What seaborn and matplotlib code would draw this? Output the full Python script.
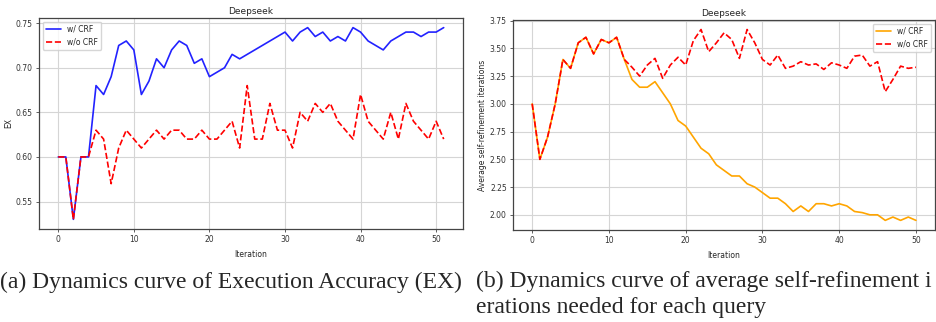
import numpy as np
import pandas as pd
import matplotlib
matplotlib.use("Agg")
import matplotlib.pyplot as plt
import seaborn as sns

# EX per iteration (left panel)
ex_iter = list(range(52))
ex_with_crf = [0.60, 0.60, 0.53, 0.60, 0.60, 0.68, 0.67, 0.69, 0.725, 0.73,
               0.72, 0.67, 0.685, 0.71, 0.70, 0.72, 0.73, 0.725, 0.705, 0.71,
               0.69, 0.695, 0.70, 0.715, 0.71, 0.715, 0.72, 0.725, 0.73, 0.735,
               0.74, 0.73, 0.74, 0.745, 0.735, 0.74, 0.73, 0.735, 0.73, 0.745,
               0.74, 0.73, 0.725, 0.72, 0.73, 0.735, 0.74, 0.74, 0.735, 0.74,
               0.74, 0.745]
ex_without_crf = [0.60, 0.60, 0.53, 0.60, 0.60, 0.63, 0.62, 0.57, 0.61, 0.63,
                  0.62, 0.61, 0.62, 0.63, 0.62, 0.63, 0.63, 0.62, 0.62, 0.63,
                  0.62, 0.62, 0.63, 0.64, 0.61, 0.68, 0.62, 0.62, 0.66, 0.63,
                  0.63, 0.61, 0.65, 0.64, 0.66, 0.65, 0.66, 0.64, 0.63, 0.62,
                  0.67, 0.64, 0.63, 0.62, 0.65, 0.62, 0.66, 0.64, 0.63, 0.62,
                  0.64, 0.62]

# average self-refinement iterations (right panel)
ref_iter = list(range(51))
ref_with_crf = [3.00, 2.50, 2.70, 3.00, 3.40, 3.32, 3.55, 3.60, 3.45, 3.58,
                3.55, 3.60, 3.40, 3.22, 3.15, 3.15, 3.20, 3.10, 3.00, 2.85,
                2.80, 2.70, 2.60, 2.55, 2.45, 2.40, 2.35, 2.35, 2.28, 2.25,
                2.20, 2.15, 2.15, 2.10, 2.03, 2.08, 2.03, 2.10, 2.10, 2.08,
                2.10, 2.08, 2.03, 2.02, 2.00, 2.00, 1.95, 1.98, 1.95, 1.98,
                1.95]
ref_without_crf = [3.00, 2.50, 2.70, 3.00, 3.40, 3.32, 3.55, 3.60, 3.45, 3.58,
                   3.55, 3.60, 3.40, 3.33, 3.25, 3.35, 3.41, 3.23, 3.35, 3.42,
                   3.35, 3.57, 3.67, 3.47, 3.55, 3.64, 3.58, 3.41, 3.67, 3.55,
                   3.40, 3.35, 3.44, 3.32, 3.34, 3.38, 3.35, 3.36, 3.31, 3.37,
                   3.35, 3.32, 3.43, 3.44, 3.34, 3.38, 3.11, 3.22, 3.34, 3.32,
                   3.33]

sns.set_style("whitegrid", {"grid.color": "#d5d5d5", "axes.edgecolor": "#444444",
                            "xtick.bottom": True, "ytick.left": True})
plt.rcParams['font.family'] = ['DejaVu Sans']

fig = plt.figure(figsize=(9.37, 3.22), dpi=100)
ax1 = fig.add_axes([0.0416, 0.289, 0.4525, 0.655])
ax2 = fig.add_axes([0.5475, 0.286, 0.4505, 0.652])

# Left: EX
sns.lineplot(x=ex_iter, y=ex_with_crf, ax=ax1, color="#2222ff", linewidth=1.2, label="w/ CRF")
sns.lineplot(x=ex_iter, y=ex_without_crf, ax=ax1, color="red", linewidth=1.2,
             linestyle="--", label="w/o CRF")
ax1.set_title("Deepseek", fontsize=6.5, pad=3)
ax1.set_xlabel("Iteration", fontsize=5.5)
ax1.set_ylabel("EX", fontsize=5.5, labelpad=2)
ax1.set_xticks([0, 10, 20, 30, 40, 50])
ax1.set_yticks([0.55, 0.60, 0.65, 0.70, 0.75])
ax1.legend(loc="upper left", fontsize=5.5, frameon=True)

# Right: self-refinement iterations
sns.lineplot(x=ref_iter, y=ref_with_crf, ax=ax2, color="orange", linewidth=1.2, label="w/ CRF")
sns.lineplot(x=ref_iter, y=ref_without_crf, ax=ax2, color="red", linewidth=1.2,
             linestyle="--", label="w/o CRF")
ax2.set_title("Deepseek", fontsize=6.5, pad=3)
ax2.set_xlabel("Iteration", fontsize=5.5)
ax2.set_ylabel("Average self-refinement iterations", fontsize=5.5, labelpad=2)
ax2.set_xticks([0, 10, 20, 30, 40, 50])
ax2.set_yticks([2.00, 2.25, 2.50, 2.75, 3.00, 3.25, 3.50, 3.75])
ax2.legend(loc="upper right", fontsize=5.5, frameon=True)

for ax in (ax1, ax2):
    ax.tick_params(labelsize=5.5, length=2.5, width=0.6, pad=2, colors="#444444",
                   labelcolor="#333333")
    for s in ax.spines.values():
        s.set_linewidth(0.9)

# captions
fig.text(0.0, 1 - 282 / 322, "(a) Dynamics curve of Execution Accuracy (EX)",
         family="Liberation Serif", fontsize=17, va="center", ha="left")
fig.text(476 / 937, 1 - 281 / 322, "(b) Dynamics curve of average self-refinement i",
         family="Liberation Serif", fontsize=17, va="center", ha="left")
fig.text(476 / 937, 1 - 308 / 322, "erations needed for each query",
         family="Liberation Serif", fontsize=17, va="center", ha="left")

fig.savefig("out.png", dpi=100)
